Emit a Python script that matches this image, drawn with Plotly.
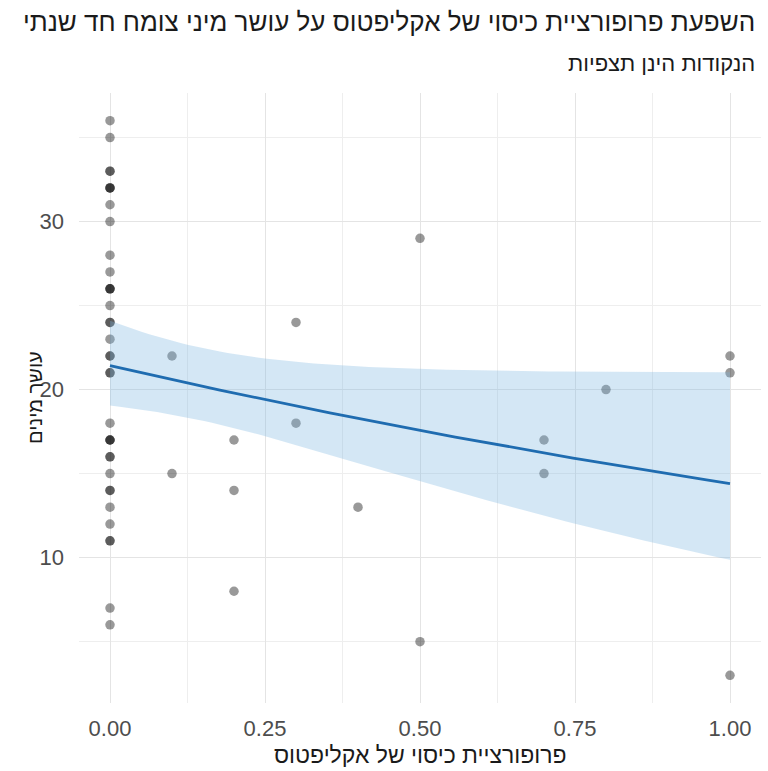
import numpy as np
import plotly.graph_objects as go

# ---- data ----
x0_values = [36, 35, 33, 33, 32, 32, 32, 31, 30, 28, 27, 26, 26, 26, 25, 24, 24, 23,
             22, 22, 21, 21, 18, 17, 17, 17, 16, 16, 15, 14, 14, 13, 12, 11, 11, 7, 6]
other_x = [0.1, 0.1, 0.2, 0.2, 0.2, 0.3, 0.3, 0.4, 0.5, 0.5, 0.7, 0.7, 0.8, 1.0, 1.0, 1.0]
other_y = [22, 15, 17, 14, 8, 24, 18, 13, 29, 5, 17, 15, 20, 22, 21, 3]

x_ticks = [0, 0.25, 0.5, 0.75, 1.0]
x_tick_labels = ["0.00", "0.25", "0.50", "0.75", "1.00"]
y_ticks = [10, 20, 30]

title_text = "השפעת פרופורציית כיסוי של אקליפטוס על עושר מיני צומח חד שנתי"
subtitle_text = "הנקודות הינן תצפיות"
x_title = "פרופורציית כיסוי של אקליפטוס"
y_title = "עושר מינים"

x = np.array([0.0] * len(x0_values) + other_x)
y = np.array(x0_values + other_y, dtype=float)

# ---- quasi-Poisson GLM (log link) with 95% CI, like geom_smooth(method="glm") ----
X = np.column_stack([np.ones_like(x), x])
beta = np.array([np.log(y.mean()), 0.0])
for _ in range(50):
    eta = X @ beta
    mu = np.exp(eta)
    z = eta + (y - mu) / mu
    W = mu
    XtWX = X.T @ (X * W[:, None])
    beta = np.linalg.solve(XtWX, X.T @ (W * z))
mu = np.exp(X @ beta)
XtWX = X.T @ (X * mu[:, None])
phi = np.sum((y - mu) ** 2 / mu) / (len(y) - 2)
cov = phi * np.linalg.inv(XtWX)
xs = np.linspace(0, 1, 80)
Xs = np.column_stack([np.ones_like(xs), xs])
eta_s = Xs @ beta
se = np.sqrt(np.einsum("ij,jk,ik->i", Xs, cov, Xs))
zq = 1.959964
fit = np.exp(eta_s)
lo = np.exp(eta_s - zq * se)
hi = np.exp(eta_s + zq * se)

FONT = "Liberation Sans, Arial, DejaVu Sans, sans-serif"

fig = go.Figure()
fig.add_trace(go.Scatter(
    x=x, y=y, mode="markers",
    marker=dict(size=9.5, color="rgba(0,0,0,0.4)", line=dict(width=0)),
    hoverinfo="x+y", showlegend=False))
fig.add_trace(go.Scatter(
    x=np.concatenate([xs, xs[::-1]]), y=np.concatenate([hi, lo[::-1]]),
    mode="lines", fill="toself", fillcolor="rgba(125,182,226,0.33)",
    line=dict(width=0), hoverinfo="skip", showlegend=False))
fig.add_trace(go.Scatter(
    x=xs, y=fit, mode="lines", line=dict(color="#1f6cb0", width=2.8),
    showlegend=False))

fig.update_layout(
    width=768, height=771,
    margin=dict(l=79, r=7, t=93, b=68),
    paper_bgcolor="white", plot_bgcolor="white",
    font=dict(family=FONT, color="#222222"),
    annotations=[
        dict(text=title_text, xref="paper", yref="paper", x=1.0, y=1.0,
             xanchor="right", yanchor="middle", yshift=71, xshift=-4,
             showarrow=False, font=dict(size=26, color="#1a1a1a", family=FONT)),
        dict(text=subtitle_text, xref="paper", yref="paper", x=1.0, y=1.0,
             xanchor="right", yanchor="middle", yshift=30, xshift=-4,
             showarrow=False, font=dict(size=22, color="#1a1a1a", family=FONT)),
        dict(text=y_title, xref="paper", yref="paper", x=0, y=0.5,
             xanchor="center", yanchor="middle", xshift=-44, textangle=-90,
             showarrow=False, font=dict(size=20, color="#1a1a1a", family=FONT)),
        dict(text=x_title, xref="paper", yref="paper", x=0.5, y=0,
             xanchor="center", yanchor="middle", yshift=-52,
             showarrow=False, font=dict(size=23, color="#1a1a1a", family=FONT)),
    ],
)
fig.update_xaxes(
    range=[-0.05, 1.05], tickvals=x_ticks, ticktext=x_tick_labels,
    showgrid=True, gridcolor="#e4e4e4", gridwidth=1.3, zeroline=False,
    showline=False, ticks="", ticklabelstandoff=10,
    tickfont=dict(size=22, color="#4d4d4d", family=FONT),
    minor=dict(tickvals=[0.125, 0.375, 0.625, 0.875], showgrid=True,
               gridcolor="#eeeeee", gridwidth=0.9),
)
fig.update_yaxes(
    range=[1.35, 37.65], tickvals=y_ticks,
    showgrid=True, gridcolor="#e4e4e4", gridwidth=1.3, zeroline=False,
    showline=False, ticks="", ticklabelstandoff=14,
    tickfont=dict(size=22, color="#4d4d4d", family=FONT),
    minor=dict(tickvals=[5, 15, 25, 35], showgrid=True,
               gridcolor="#eeeeee", gridwidth=0.9),
)

fig.write_html("out.html")
